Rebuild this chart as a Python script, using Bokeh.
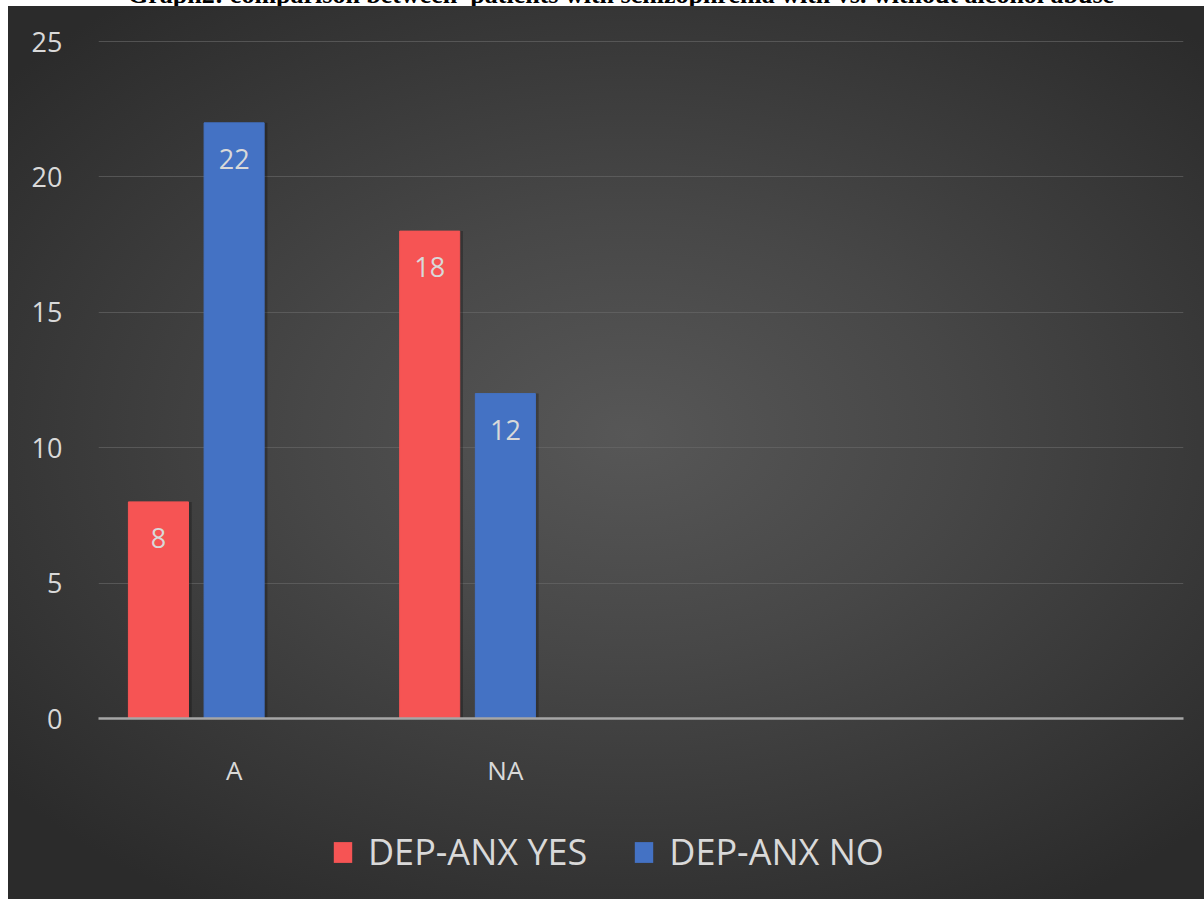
from bokeh.plotting import figure
from bokeh.models import ColumnDataSource, FactorRange, Legend, LegendItem, Div, Range1d
from bokeh.transform import dodge
from bokeh.layouts import column
from bokeh.embed import file_html
from bokeh.resources import INLINE
from bokeh.core.properties import value

title_text = "Graph2: comparison between  patients with schizophrenia with vs. without alcohol abuse"
categories = ["A", "NA", " ", "  "]
series_names = ["DEP-ANX YES", "DEP-ANX NO"]
dep_anx_yes = [8, 18, None, None]
dep_anx_no = [22, 12, None, None]
y_ticks = [0, 5, 10, 15, 20, 25]

RED = "#F65454"
BLUE = "#4472C4"
TXT = "#D9D9D9"
FONT = "Open Sans"
BG = ("radial-gradient(ellipse 68% 62% at 52% 48%, #575757 0%, #474747 40%, #2b2b2b 100%) "
      "8px 6px / calc(100% - 8px) calc(100% - 6px) no-repeat fixed")

src = ColumnDataSource(data=dict(
    cats=categories,
    yes=[v if v is not None else float("nan") for v in dep_anx_yes],
    no=[v if v is not None else float("nan") for v in dep_anx_no],
    yes_lbl=[str(v) if v is not None else "" for v in dep_anx_yes],
    no_lbl=[str(v) if v is not None else "" for v in dep_anx_no],
))

p = figure(x_range=FactorRange(*categories), y_range=(0, 25.04),
           width=1204, height=784, output_backend="svg", toolbar_location=None,
           min_border_left=98, min_border_right=21, min_border_top=34, min_border_bottom=68)

p.styles = {"background": BG}
p.border_fill_alpha = 0
p.background_fill_alpha = 0
p.outline_line_color = None

BW = 0.2214
OFF = 0.279
SH = 0.012

# subtle shadows
p.vbar(x=dodge("cats", -OFF + SH, range=p.x_range), top="yes", width=BW, source=src,
       fill_color="black", fill_alpha=0.25, line_color=None)
p.vbar(x=dodge("cats", SH, range=p.x_range), top="no", width=BW, source=src,
       fill_color="black", fill_alpha=0.25, line_color=None)

p.vbar(x=dodge("cats", -OFF, range=p.x_range), top="yes", width=BW, source=src,
       fill_color=RED, line_color=RED)
p.vbar(x=dodge("cats", 0, range=p.x_range), top="no", width=BW, source=src,
       fill_color=BLUE, line_color=BLUE)

p.text(x=dodge("cats", -OFF, range=p.x_range), y="yes", text="yes_lbl", source=src,
       y_offset=36, text_align="center", text_baseline="middle",
       text_font=value(FONT), text_font_size="27px", text_color=TXT)
p.text(x=dodge("cats", 0, range=p.x_range), y="no", text="no_lbl", source=src,
       y_offset=36, text_align="center", text_baseline="middle",
       text_font=value(FONT), text_font_size="27px", text_color=TXT)

# axes
p.yaxis.ticker = y_ticks
p.yaxis.axis_line_color = None
p.yaxis.major_tick_line_color = None
p.yaxis.minor_tick_line_color = None
p.yaxis.major_label_text_font = FONT
p.yaxis.major_label_text_font_size = "27px"
p.yaxis.major_label_text_color = TXT
p.yaxis.major_label_standoff = 30

p.xaxis.axis_line_color = "#A6A6A6"
p.xaxis.axis_line_width = 2.5
p.xaxis.major_tick_line_color = None
p.xaxis.minor_tick_line_color = None
p.xaxis.major_label_text_font = FONT
p.xaxis.major_label_text_font_size = "26px"
p.xaxis.major_label_text_color = TXT
p.xaxis.major_label_standoff = 27

p.xgrid.grid_line_color = None
p.ygrid.grid_line_color = "#6A6A6A"
p.ygrid.grid_line_alpha = 0.6
p.ygrid.grid_line_width = 1

# legend strip (separate small figure sharing the fixed background)
lf = figure(width=1204, height=109, output_backend="svg", toolbar_location=None,
            x_range=Range1d(0, 1), y_range=Range1d(0, 1),
            x_axis_type=None, y_axis_type=None,
            min_border_left=0, min_border_right=0, min_border_top=0, min_border_bottom=0)
lf.styles = {"background": BG}
lf.border_fill_alpha = 0
lf.background_fill_alpha = 0
lf.outline_line_color = None
lf.grid.visible = False
# legend-only swatches (zero-height, nothing visible in the strip itself)
l_yes = lf.vbar(x=[0.5], top=[0], bottom=[0], width=0.1, fill_color=RED, line_color=None)
l_no = lf.vbar(x=[0.5], top=[0], bottom=[0], width=0.1, fill_color=BLUE, line_color=None)

legend = Legend(items=[LegendItem(label=series_names[0], renderers=[l_yes]),
                       LegendItem(label=series_names[1], renderers=[l_no])],
                orientation="horizontal", location=(233, 23),
                label_text_font=FONT, label_text_font_size="36px", label_text_color=TXT,
                glyph_width=23, glyph_height=26, label_standoff=14, spacing=45,
                padding=0, margin=0, background_fill_alpha=0, border_line_color=None)
lf.add_layout(legend, "center")

title_div = Div(text=title_text, width=1204, height=19, margin=(-13, 0, 0, 0),
                styles={"font-family": "'Liberation Serif', 'Times New Roman', serif",
                        "font-weight": "bold", "font-size": "26px", "color": "#000000",
                        "line-height": "16px", "padding-left": "128px", "white-space": "pre",
                        "overflow": "visible"})

layout = column(title_div, p, lf, spacing=0)
open("out.html", "w").write(file_html(layout, INLINE))
